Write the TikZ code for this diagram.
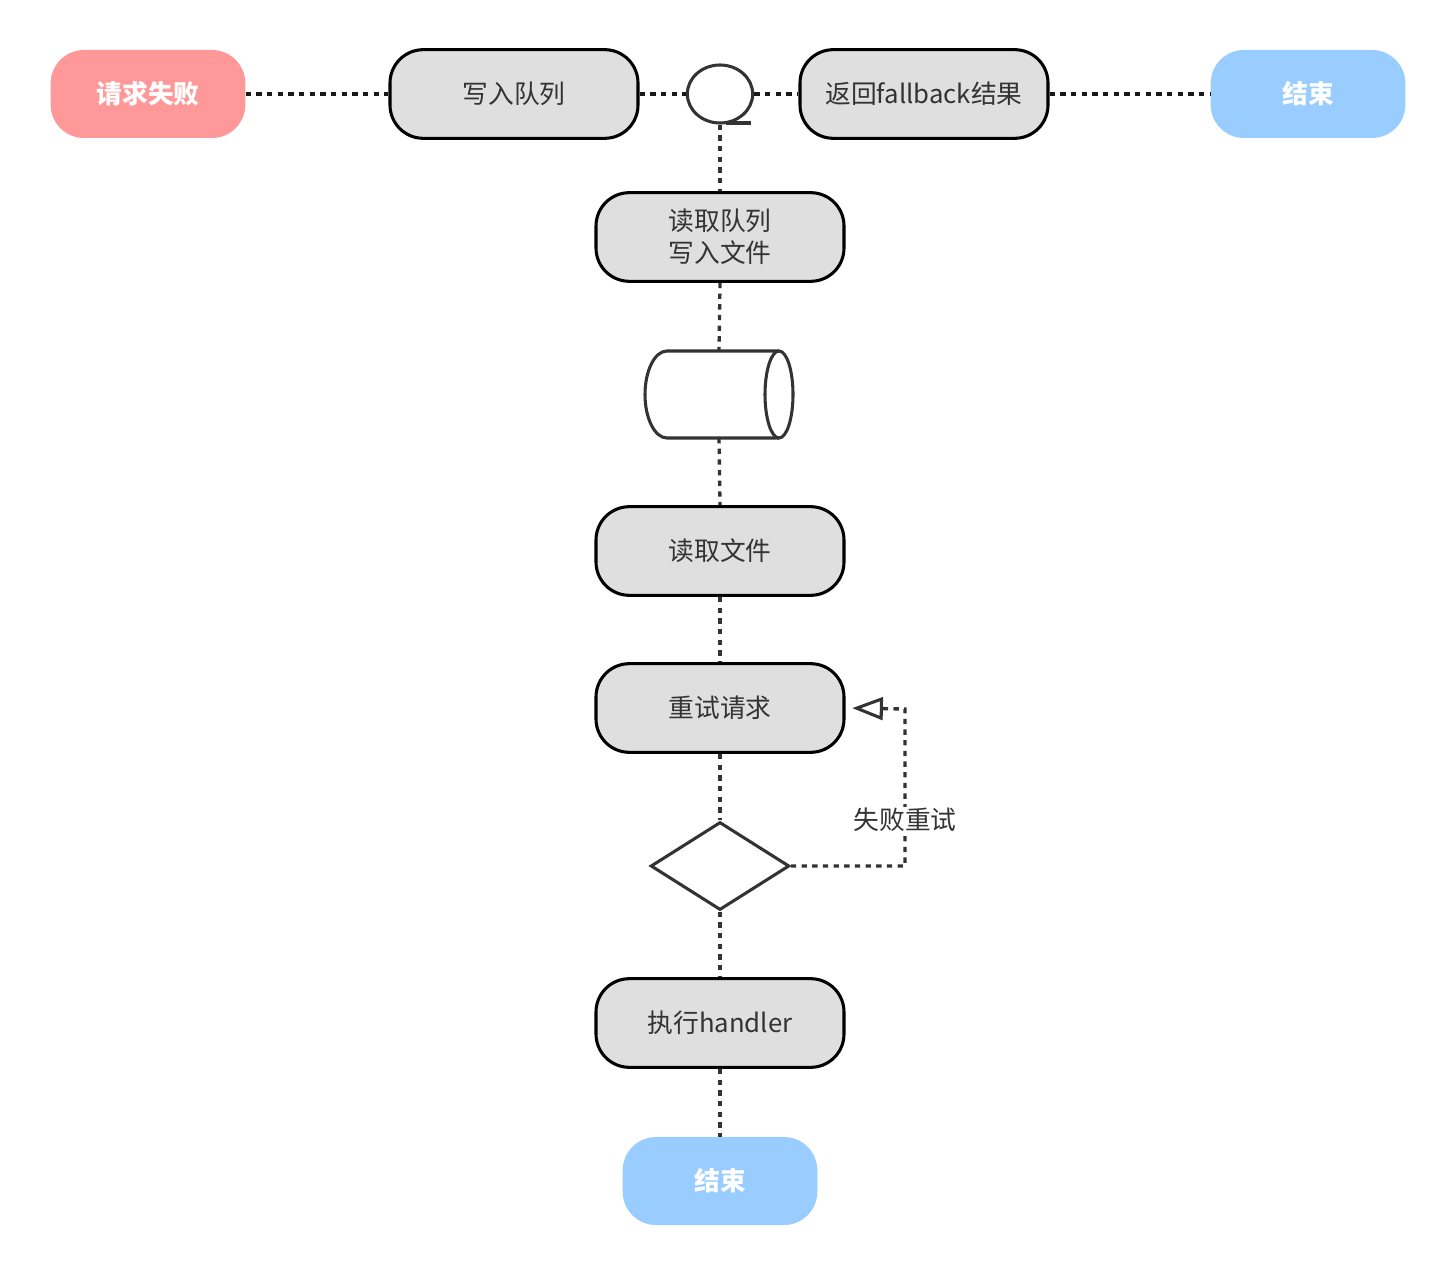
\documentclass[tikz,border=0pt]{standalone}
\usepackage{fontspec}
\setmainfont{Noto Sans CJK SC}
\usetikzlibrary{shapes.geometric,arrows.meta}
\definecolor{boxgray}{HTML}{DFDFDF}
\definecolor{startred}{HTML}{FF9999}
\definecolor{endblue}{HTML}{99CCFF}
\definecolor{ink}{HTML}{333333}
\begin{document}
\begin{tikzpicture}[x=0.75pt,y=-0.75pt,
  every node/.style={font=\fontsize{19.3}{24}\selectfont, text=ink, align=center},
  procbox/.style={draw=black, line width=2.3pt, fill=boxgray, rounded corners=25pt,
    minimum width=186pt, minimum height=66.5pt, inner sep=0pt},
  termbox/.style={rounded corners=25pt, minimum width=146pt, minimum height=66pt,
    inner sep=0pt, text=white, font=\fontsize{19.3}{24}\selectfont\bfseries},
  flow/.style={line width=2.5pt, dash pattern=on 4pt off 4pt, draw=ink},
  toplink/.style={line width=2.5pt, dash pattern=on 4pt off 4pt, draw=black!90},
  shapeline/.style={draw=ink, line width=2.3pt}
]
\useasboundingbox (0,0) rectangle (1455,1276);

% top row
\node[termbox, fill=startred] (start) at (148,94) {请求失败};
\node[procbox] (wq) at (514,94) {写入队列};
\node[shapeline, ellipse, minimum width=49pt, minimum height=43.5pt, inner sep=0pt, fill=white] (q) at (720,94) {};
\node[procbox] (fb) at (924,94) {返回fallback结果};
\node[termbox, fill=endblue] (end1) at (1308,94) {结束};

% vertical column
\node[procbox] (rw) at (720,237) {读取队列\\写入文件};
\node[minimum width=111pt, minimum height=65pt, inner sep=0pt] (cyl) at (719,394.5) {};
\node[procbox] (rf) at (720,551) {读取文件};
\node[procbox] (rq) at (720,708) {重试请求};
\node[shapeline, diamond, minimum width=104pt, minimum height=66pt, inner sep=0pt, fill=white] (dia) at (720,866) {};
\node[procbox] (ex) at (720,1023) {执行handler};
\node[termbox, fill=endblue] (end2) at (720,1181) {结束};

% cylinder drawing
\draw[shapeline, fill=white, line join=round] (779,351) -- (667,351)
  arc[start angle=270, end angle=90, x radius=22, y radius=43.5] -- (779,438);
\draw[shapeline] (779,394.5) ellipse[x radius=14, y radius=43.5];

\coordinate (turn) at (905,709);

% connectors top row
\draw[toplink] (start.east) -- (wq.west);
\draw[toplink] (wq.east) -- (q.west);
\draw[toplink] (q.east) -- (fb.west);
\draw[toplink] (fb.east) -- (end1.west);
\draw[draw=ink, line width=2.3pt] (726,123) -- (751,123);

% vertical connectors
\draw[flow] (q.south) -- (rw.north);
\draw[flow] (rw.south) -- (719,351);
\draw[flow] (719,438) -- (rf.north);
\draw[flow] (rf.south) -- (rq.north);
\draw[flow] (rq.south) -- (dia.north);
\draw[flow] (dia.south) -- (ex.north);
\draw[flow] (ex.south) -- (end2.north);

% retry loop
\draw[flow, -{Triangle[open, length=23pt, width=17pt, line width=2.3pt]}, shorten >=5pt]
  (dia.east) -| (turn) -- (rq.east);
\node[fill=white, inner sep=1pt] (lbl) at (905,820) {失败重试};

\end{tikzpicture}
\end{document}
